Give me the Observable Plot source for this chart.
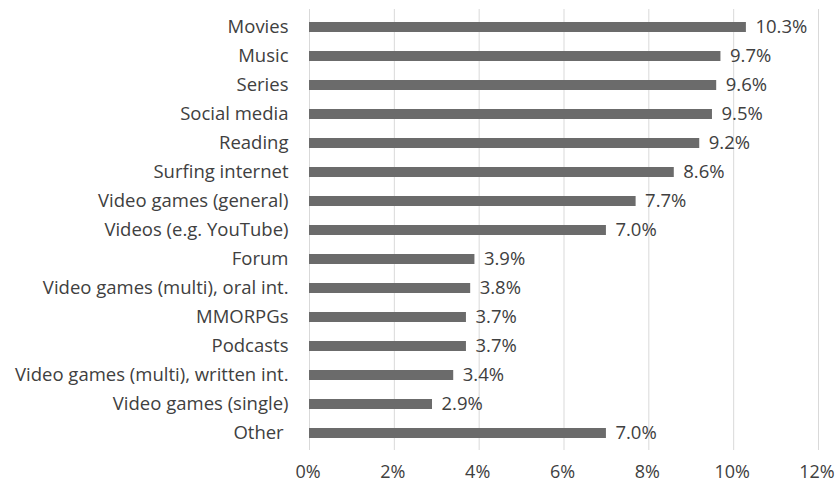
<!DOCTYPE html>
<html>
<head>
<meta charset="utf-8">
<script src="https://cdn.jsdelivr.net/npm/d3@7"></script>
<script src="https://cdn.jsdelivr.net/npm/@observablehq/plot@0.6"></script>
<style>
  body { margin: 0; background: #fff; }
  svg text { white-space: pre; }
</style>
</head>
<body>
<div id="chart"></div>
<script>
const categories = [
  "Movies", "Music", "Series", "Social media", "Reading", "Surfing internet",
  "Video games (general)", "Videos (e.g. YouTube)", "Forum",
  "Video games (multi), oral int.", "MMORPGs", "Podcasts",
  "Video games (multi), written int.", "Video games (single)", "Other "
];
const values = [10.3, 9.7, 9.6, 9.5, 9.2, 8.6, 7.7, 7.0, 3.9, 3.8, 3.7, 3.7, 3.4, 2.9, 7.0];
const xTicks = [0, 2, 4, 6, 8, 10, 12];

const data = categories.map((c, i) => ({category: c, value: values[i]}));

const textColor = "#404040";
const fs = 18.5;
const chart = Plot.plot({
  width: 835,
  height: 484,
  marginLeft: 309,
  marginRight: 17,
  marginTop: 9,
  marginBottom: 34,
  style: {fontFamily: "'Open Sans', sans-serif", fontSize: fs + "px", color: textColor, background: "#fff"},
  x: {domain: [0, 12], ticks: xTicks, tickFormat: d => d + "%", label: null},
  y: {domain: categories, paddingInner: 0.66, paddingOuter: 0.34, label: null},
  marks: [
    Plot.gridX(xTicks, {stroke: "#d9d9d9", strokeOpacity: 1, strokeWidth: 1}),
    Plot.barX(data, {x: "value", y: "category", fill: "#6b6b6b"}),
    Plot.text(data, {x: "value", y: "category", text: d => d.value.toFixed(1) + "%", textAnchor: "start", dx: 9, fill: textColor, fontSize: fs}),
    Plot.axisY({tickSize: 0, tickPadding: 21, fontSize: fs, fill: textColor}),
    Plot.axisX(xTicks, {tickSize: 0, tickPadding: 15, fontSize: 18, dx: -1.5, fill: textColor, tickFormat: d => d + "%"})
  ]
});
document.getElementById("chart").appendChild(chart);
</script>
</body>
</html>
